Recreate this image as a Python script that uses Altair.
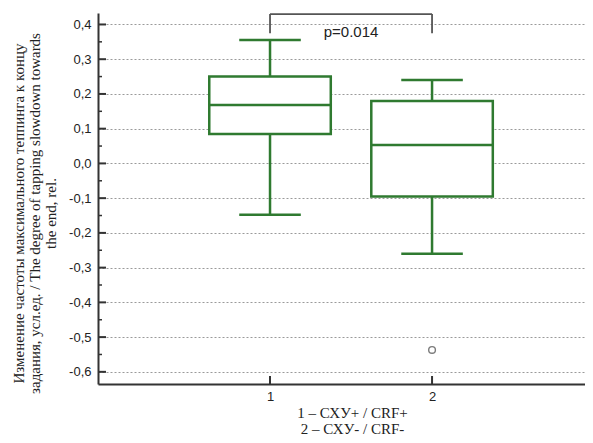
import altair as alt
import pandas as pd

# ---- data ----
groups = [1, 2]
q1 = [0.085, -0.095]
median = [0.168, 0.053]
q3 = [0.250, 0.180]
whisker_low = [-0.148, -0.260]
whisker_high = [0.355, 0.240]
outlier_group = [2]
outlier_value = [-0.537]
y_major = [-0.6, -0.5, -0.4, -0.3, -0.2, -0.1, 0.0, 0.1, 0.2, 0.3, 0.4]
y_minor = [-0.55, -0.45, -0.35, -0.25, -0.15, -0.05, 0.05, 0.15, 0.25, 0.35]
x_ticks = [1, 2]
bracket_from = [1]
bracket_to = [2]
bracket_top = [0.430]
bracket_leg = [0.375]
p_text = ["p=0.014"]
p_pos = [1.5]
p_y = [0.378]

y_title = ["Изменение частоты максимального теппинга к концу",
           "задания, усл.ед. / The degree of tapping slowdown towards",
           "the end, rel."]
x_title = ["1 – СХУ+ / CRF+", "2 – СХУ- / CRF-"]

BOX_HALF = 0.375
CAP_HALF = 0.19
GREEN = "#2f7a30"
GREY = "#333333"
W, H = 487, 371

df = pd.DataFrame({
    "g": groups, "q1": q1, "med": median, "q3": q3,
    "lo": whisker_low, "hi": whisker_high,
})
df["left"] = df["g"] - BOX_HALF
df["right"] = df["g"] + BOX_HALF
df["capl"] = df["g"] - CAP_HALF
df["capr"] = df["g"] + CAP_HALF

xs = alt.Scale(domain=[-0.0617, 2.944], nice=False, zero=False)
ys = alt.Scale(domain=[-0.635, 0.433], nice=False, zero=False)

x_axis = alt.Axis(values=x_ticks, format="d", ticks=False, grid=False, labelPadding=6,
                  labelOverlap=False,
                  labelFont="Liberation Sans", labelFontSize=13, labelColor="#222",
                  domainColor=GREY, domainWidth=2,
                  title=x_title, titleFont="Liberation Serif", titleFontSize=15,
                  titleFontWeight="normal", titleColor="#222", titlePadding=2,
                  titleLineHeight=16, titleX=254)
y_axis = alt.Axis(values=y_major, ticks=False, grid=True, gridDash=[2, 2],
                  gridColor="#9a9a9a", gridWidth=1, labelOverlap=False,
                  labelExpr="replace(replace(format(datum.value, '.1f'), '.', ','), '\u2212', '-')",
                  labelPadding=7, labelFont="Liberation Sans", labelFontSize=13,
                  labelColor="#222", domainColor=GREY, domainWidth=2,
                  title=y_title, titleFont="Liberation Serif", titleFontSize=15,
                  titleFontWeight="normal", titleColor="#222", titlePadding=10,
                  titleLineHeight=16, titleY=200)


def X(field):
    return alt.X(field, scale=xs, axis=x_axis)


def Y(field):
    return alt.Y(field, scale=ys, axis=y_axis)


base = alt.Chart(df)

box = base.mark_rect(fill="white", stroke=GREEN, strokeWidth=2.5).encode(
    x=X("left:Q"), x2="right:Q", y=Y("q1:Q"), y2="q3:Q")
w_low = base.mark_rule(color=GREEN, strokeWidth=2.5).encode(
    x=X("g:Q"), y=Y("lo:Q"), y2="q1:Q")
w_high = base.mark_rule(color=GREEN, strokeWidth=2.5).encode(
    x=X("g:Q"), y=Y("q3:Q"), y2="hi:Q")
cap_low = base.mark_rule(color=GREEN, strokeWidth=2.5).encode(
    x=X("capl:Q"), x2="capr:Q", y=Y("lo:Q"))
cap_high = base.mark_rule(color=GREEN, strokeWidth=2.5).encode(
    x=X("capl:Q"), x2="capr:Q", y=Y("hi:Q"))
med = base.mark_rule(color=GREEN, strokeWidth=2.5).encode(
    x=X("left:Q"), x2="right:Q", y=Y("med:Q"))

out_df = pd.DataFrame({"g": outlier_group, "v": outlier_value})
outl = alt.Chart(out_df).mark_point(shape="circle", filled=False, size=45,
                                    color="#444", strokeWidth=1.4).encode(
    x=X("g:Q"), y=Y("v:Q"))

br_df = pd.DataFrame({"a": bracket_from, "b": bracket_to,
                      "top": bracket_top, "leg": bracket_leg})
br_h = alt.Chart(br_df).mark_rule(color="#555", strokeWidth=1.8).encode(
    x=X("a:Q"), x2="b:Q", y=Y("top:Q"))
br_l = alt.Chart(br_df).mark_rule(color="#555", strokeWidth=1.8).encode(
    x=X("a:Q"), y=Y("top:Q"), y2="leg:Q")
br_r = alt.Chart(br_df).mark_rule(color="#555", strokeWidth=1.8).encode(
    x=X("b:Q"), y=Y("top:Q"), y2="leg:Q")

p_df = pd.DataFrame({"t": p_text, "x": p_pos, "y": p_y})
ptxt = alt.Chart(p_df).mark_text(font="Liberation Sans", fontSize=15,
                                 color="#222", baseline="middle").encode(
    x=X("x:Q"), y=Y("y:Q"), text="t:N")

ymaj = alt.Chart(pd.DataFrame({"v": y_major})).mark_rule(color=GREY, strokeWidth=2).encode(
    y=Y("v:Q"), x=alt.value(0), x2=alt.value(8))
ymin = alt.Chart(pd.DataFrame({"v": y_minor})).mark_rule(color=GREY, strokeWidth=1.5).encode(
    y=Y("v:Q"), x=alt.value(0), x2=alt.value(4))
xtk = alt.Chart(pd.DataFrame({"v": x_ticks})).mark_rule(color=GREY, strokeWidth=2).encode(
    x=X("v:Q"), y=alt.value(H), y2=alt.value(H - 8))

chart = alt.layer(box, w_low, w_high, cap_low, cap_high, med, outl,
                  br_h, br_l, br_r, ptxt, ymaj, ymin, xtk).properties(
    width=W, height=H,
    autosize=alt.AutoSizeParams(type="none"),
    padding={"left": 90, "top": 5, "right": 0, "bottom": 51},
    background="white",
).configure_view(stroke=None)

chart.save("out.html", embed_options={"renderer": "svg", "actions": False})
